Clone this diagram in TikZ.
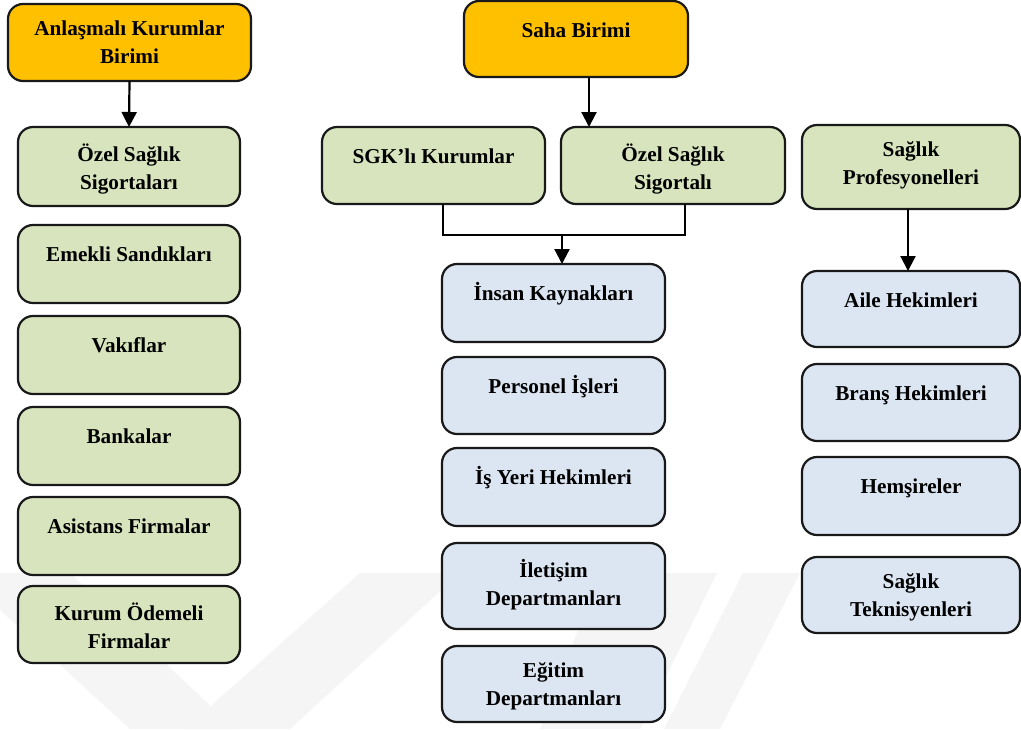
\documentclass[tikz,border=0pt]{standalone}
\usepackage{fontspec}
\setmainfont{Liberation Serif}
\usetikzlibrary{arrows.meta,calc}

\definecolor{unitorange}{HTML}{FFC000}
\definecolor{unitgreen}{HTML}{D7E4BD}
\definecolor{unitblue}{HTML}{DCE6F2}
\definecolor{markgray}{HTML}{F5F5F5}

\tikzset{
  box/.style={draw=black!90, line width=1.1pt, rounded corners=7.5pt,
              inner sep=0pt, outer sep=0pt},
  orangebox/.style={box, fill=unitorange},
  greenbox/.style={box, fill=unitgreen},
  bluebox/.style={box, fill=unitblue},
  lbl/.style={inner sep=0pt, align=center,
              font=\fontsize{10.6}{14}\selectfont\bfseries,
              execute at begin node=\strut},
  arr/.style={line width=1.1pt, -{Triangle[length=7.5pt,width=7.5pt]}},
  link/.style={line width=1.1pt},
}

% #1 name, #2 style, #3..#6 corners in pixel units, #7 label
\newcommand\unitbox[7]{%
  \node[#2, minimum width={(#5-#3)*0.5pt}, minimum height={(#6-#4)*0.5pt}]
    (#1) at ({(#3+#5)/2},{(#4+#6)/2}) {};
  \node[lbl, anchor=north] (#1-t) at ([yshift=-8.2pt]#1.north) {#7};
}

\begin{document}
\begin{tikzpicture}[x=0.5pt, y=-0.5pt]
\useasboundingbox (0,0) rectangle (1021,729);

% faint background chevrons
\begin{scope}[fill=markgray]
  \fill (0,573) -- (70,573) -- (235,729) -- (130,729) -- (0,610) -- cycle;
  \fill (185,729) -- (290,729) -- (460,573) -- (360,573) -- cycle;
  \fill (600,573) -- (717,573) -- (640,729) -- (540,729) -- cycle;
  \fill (743,573) -- (800,573) -- (720,729) -- (664,729) -- cycle;
\end{scope}

% left column
\unitbox{anl}{orangebox}{8}{4}{251}{81}{Anlaşmalı Kurumlar\\Birimi}
\unitbox{osg}{greenbox}{18}{127}{240}{206}{Özel Sağlık\\Sigortaları}
\unitbox{ems}{greenbox}{18}{225}{240}{303}{Emekli Sandıkları}
\unitbox{vak}{greenbox}{18}{316}{240}{394}{Vakıflar}
\unitbox{ban}{greenbox}{18}{407}{240}{485}{Bankalar}
\unitbox{asi}{greenbox}{18}{497}{240}{575}{Asistans Firmalar}
\unitbox{kur}{greenbox}{18}{586}{240}{663}{Kurum Ödemeli\\Firmalar}

% middle column
\unitbox{saha}{orangebox}{464}{1}{688}{77}{Saha Birimi}
\unitbox{sgk}{greenbox}{322}{127}{545}{204}{SGK’lı Kurumlar}
\unitbox{ozs}{greenbox}{561}{127}{785}{204}{Özel Sağlık\\Sigortalı}
\unitbox{ins}{bluebox}{442}{264}{665}{342}{İnsan Kaynakları}
\unitbox{per}{bluebox}{442}{357}{665}{434}{Personel İşleri}
\unitbox{isy}{bluebox}{442}{448}{665}{526}{İş Yeri Hekimleri}
\unitbox{ile}{bluebox}{442}{543}{665}{629}{İletişim\\Departmanları}
\unitbox{egi}{bluebox}{442}{646}{665}{722}{Eğitim\\Departmanları}

% right column
\unitbox{spr}{greenbox}{802}{125}{1020}{209}{Sağlık\\Profesyonelleri}
\unitbox{aile}{bluebox}{802}{271}{1020}{347}{Aile Hekimleri}
\unitbox{bra}{bluebox}{802}{364}{1020}{441}{Branş Hekimleri}
\unitbox{hem}{bluebox}{802}{457}{1020}{535}{Hemşireler}
\unitbox{tek}{bluebox}{802}{557}{1020}{633}{Sağlık\\Teknisyenleri}

% connectors
\draw[arr] (anl.south) -- (osg.north);
\draw[arr] ([xshift=6.5pt]saha.south) -- ([xshift=6.5pt]saha.south |- ozs.north);
\draw[arr] ([xshift=-1.5pt]spr.south) -- ([xshift=-1.5pt]spr.south |- aile.north);

\coordinate (j) at (562,235);
\draw[link] ([xshift=4.75pt]sgk.south) |- (j) -| ([xshift=6pt]ozs.south);
\draw[arr] (j) -- (j |- ins.north);
\end{tikzpicture}
\end{document}
